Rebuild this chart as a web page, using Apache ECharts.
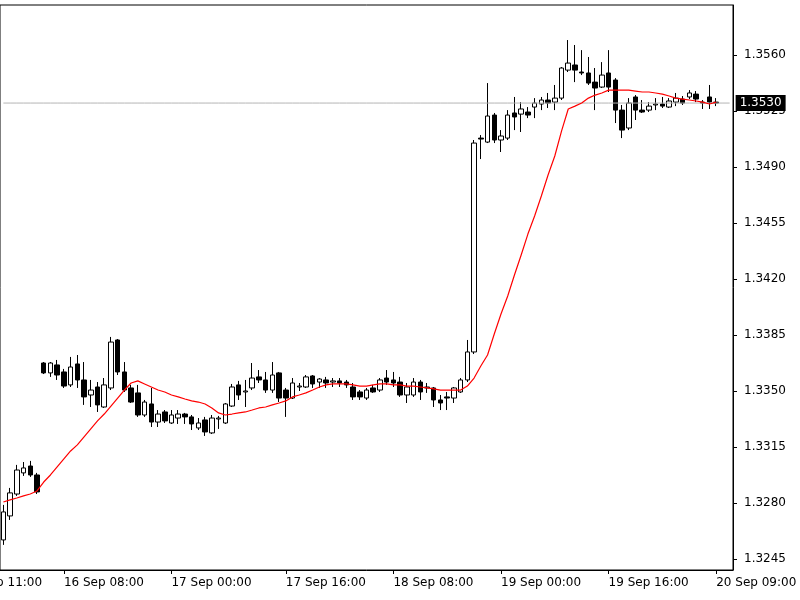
<!DOCTYPE html>
<html><head><meta charset="utf-8">
<script src="https://cdn.jsdelivr.net/npm/echarts@6/dist/echarts.min.js"></script>
<style>html,body{margin:0;padding:0;background:#fff}#c{width:800px;height:600px}</style>
</head><body><div id="c"></div>
<script>
const openP = [1.32569,1.32719,1.32856,1.32988,1.33031,1.32975,1.33675,1.33613,1.33663,1.33619,1.33538,1.33669,1.33569,1.33475,1.33525,1.33400,1.33519,1.33819,1.33619,1.33519,
1.33488,1.33350,1.33419,1.33306,1.33369,1.33300,1.33331,1.33356,1.33338,1.33269,1.33319,1.33238,1.33325,1.33300,1.33406,1.33538,1.33494,1.33519,1.33588,1.33569,
1.33506,1.33613,1.33506,1.33456,1.33525,1.33525,1.33594,1.33556,1.33569,1.33556,1.33563,1.33556,1.33525,1.33494,1.33456,1.33519,1.33506,1.33581,1.33569,1.33556,
1.33475,1.33475,1.33556,1.33519,1.33519,1.33444,1.33463,1.33456,1.33494,1.33569,1.33744,1.35081,1.35056,1.35225,1.35069,1.35081,1.35238,1.35231,1.35244,1.35275,
1.35294,1.35319,1.35306,1.35331,1.35506,1.35538,1.35494,1.35488,1.35431,1.35400,1.35488,1.35444,1.35256,1.35144,1.35338,1.35256,1.35256,1.35288,1.35294,1.35275,
1.35306,1.35325,1.35338,1.35356,1.35306,1.35338,1.35306];
const closeP = [1.32744,1.32863,1.33006,1.33019,1.32975,1.32869,1.33613,1.33675,1.33600,1.33531,1.33650,1.33569,1.33463,1.33506,1.33413,1.33538,1.33806,1.33619,1.33506,1.33431,
1.33350,1.33431,1.33306,1.33356,1.33313,1.33350,1.33356,1.33338,1.33294,1.33300,1.33244,1.33331,1.33331,1.33419,1.33525,1.33475,1.33500,1.33581,1.33569,1.33506,
1.33600,1.33456,1.33456,1.33550,1.33531,1.33588,1.33544,1.33575,1.33550,1.33563,1.33550,1.33538,1.33463,1.33463,1.33506,1.33494,1.33569,1.33556,1.33550,1.33475,
1.33525,1.33556,1.33494,1.33525,1.33444,1.33425,1.33456,1.33519,1.33569,1.33744,1.35050,1.35075,1.35219,1.35069,1.35094,1.35225,1.35213,1.35263,1.35225,1.35300,
1.35319,1.35300,1.35331,1.35519,1.35550,1.35506,1.35488,1.35425,1.35394,1.35475,1.35400,1.35256,1.35131,1.35300,1.35256,1.35244,1.35281,1.35294,1.35281,1.35313,
1.35331,1.35300,1.35363,1.35325,1.35300,1.35306,1.35300];
const lowP = [1.32538,1.32694,1.32844,1.32969,1.32963,1.32856,1.33606,1.33588,1.33569,1.33519,1.33525,1.33519,1.33413,1.33400,1.33369,1.33394,1.33506,1.33600,1.33494,1.33425,
1.33338,1.33338,1.33275,1.33275,1.33300,1.33294,1.33294,1.33294,1.33256,1.33256,1.33219,1.33231,1.33263,1.33294,1.33400,1.33444,1.33400,1.33506,1.33550,1.33488,
1.33488,1.33431,1.33338,1.33450,1.33500,1.33519,1.33519,1.33519,1.33519,1.33525,1.33525,1.33519,1.33444,1.33444,1.33444,1.33488,1.33494,1.33538,1.33525,1.33463,
1.33425,1.33463,1.33444,1.33488,1.33400,1.33381,1.33381,1.33425,1.33488,1.33556,1.33731,1.34950,1.35050,1.35050,1.34994,1.35069,1.35131,1.35119,1.35206,1.35206,
1.35256,1.35269,1.35256,1.35319,1.35494,1.35431,1.35475,1.35413,1.35256,1.35394,1.35369,1.35175,1.35081,1.35131,1.35194,1.35238,1.35244,1.35256,1.35269,1.35269,
1.35281,1.35288,1.35325,1.35306,1.35263,1.35263,1.35281];
const highP = [1.32788,1.32894,1.33038,1.33056,1.33063,1.32988,1.33681,1.33681,1.33694,1.33638,1.33713,1.33725,1.33681,1.33569,1.33556,1.33581,1.33838,1.33825,1.33681,1.33538,
1.33538,1.33444,1.33519,1.33381,1.33381,1.33381,1.33381,1.33363,1.33350,1.33331,1.33338,1.33350,1.33344,1.33425,1.33544,1.33563,1.33569,1.33675,1.33631,1.33619,
1.33681,1.33619,1.33519,1.33581,1.33550,1.33600,1.33600,1.33581,1.33588,1.33581,1.33581,1.33569,1.33550,1.33506,1.33519,1.33538,1.33581,1.33631,1.33619,1.33588,
1.33550,1.33581,1.33569,1.33550,1.33525,1.33475,1.33494,1.33525,1.33581,1.33819,1.35069,1.35100,1.35425,1.35238,1.35131,1.35256,1.35338,1.35306,1.35275,1.35331,
1.35338,1.35363,1.35413,1.35525,1.35694,1.35663,1.35631,1.35588,1.35519,1.35556,1.35631,1.35456,1.35288,1.35331,1.35350,1.35319,1.35306,1.35331,1.35338,1.35331,
1.35363,1.35344,1.35381,1.35375,1.35319,1.35413,1.35331];
const maP = [1.32806,1.32819,1.32831,1.32844,1.32856,1.32875,1.32931,1.32975,1.33025,1.33075,1.33125,1.33163,1.33213,1.33263,1.33313,1.33356,1.33406,1.33456,1.33506,1.33550,
1.33563,1.33544,1.33525,1.33506,1.33494,1.33475,1.33463,1.33450,1.33438,1.33431,1.33419,1.33394,1.33363,1.33350,1.33356,1.33363,1.33369,1.33381,1.33394,1.33400,
1.33413,1.33425,1.33438,1.33463,1.33475,1.33488,1.33506,1.33525,1.33538,1.33544,1.33544,1.33544,1.33538,1.33531,1.33531,1.33538,1.33544,1.33544,1.33538,1.33538,
1.33531,1.33531,1.33525,1.33519,1.33513,1.33506,1.33506,1.33506,1.33506,1.33531,1.33581,1.33656,1.33725,1.33856,1.33981,1.34094,1.34225,1.34350,1.34481,1.34594,
1.34719,1.34850,1.34969,1.35125,1.35263,1.35281,1.35300,1.35331,1.35350,1.35363,1.35381,1.35381,1.35381,1.35381,1.35375,1.35369,1.35369,1.35363,1.35356,1.35344,
1.35331,1.35325,1.35319,1.35313,1.35306,1.35294,1.35306];
const yTicks = [1.3245,1.3280,1.3315,1.3350,1.3385,1.3420,1.3455,1.3490,1.3525,1.3560];
const xLabelAt = {9:'16 Sep 08:00',25:'17 Sep 00:00',42:'17 Sep 16:00',58:'18 Sep 08:00',74:'19 Sep 00:00',90:'19 Sep 16:00',106:'20 Sep 09:00'};
const firstLabel = '15 Sep 11:00';
const lastPrice = 1.3530;

const N = 109;
const cats = [];
for (let i = 0; i < N; i++) cats.push(xLabelAt[i] || '');
const candles = openP.map((o, i) => [o, closeP[i], lowP[i], highP[i]]);
const priceLine = cats.map(() => lastPrice);
const font = 'DejaVu Sans';
const chart = echarts.init(document.getElementById('c'));
chart.setOption({
  animation: false,
  backgroundColor: '#fff',
  grid: {left: 0, right: 67, top: 5, bottom: 30, show: true, borderColor: '#000', borderWidth: 1},
  xAxis: {
    type: 'category', data: cats, boundaryGap: true,
    axisLine: {lineStyle: {color: '#000'}},
    axisTick: {show: true, interval: (i) => !!xLabelAt[i], alignWithLabel: true, length: 4, lineStyle: {color: '#000'}},
    axisLabel: {interval: (i) => !!xLabelAt[i], color: '#000', fontFamily: font, fontSize: 12, align: 'left', margin: 7},
    splitLine: {show: false}
  },
  yAxis: {
    type: 'value', position: 'right', min: 1.32381, max: 1.35913, scale: true,
    axisLine: {show: true, lineStyle: {color: '#000'}},
    axisTick: {show: true, length: 4, customValues: yTicks, lineStyle: {color: '#000'}},
    axisLabel: {customValues: yTicks, formatter: v => v.toFixed(4), color: '#000', fontFamily: font, fontSize: 12, margin: 11},
    splitLine: {show: false}
  },
  graphic: [{type: 'text', left: -38, top: 577, style: {text: firstLabel, fill: '#000', font: '12px DejaVu Sans'}}],
  series: [
    {
      type: 'line', data: priceLine, silent: true, symbol: 'none', showSymbol: false,
      lineStyle: {color: '#b4b4b4', width: 1},
      endLabel: {show: true, distance: 6, formatter: () => lastPrice.toFixed(4), color: '#fff', backgroundColor: '#000', padding: [2, 4], fontFamily: font, fontSize: 12}
    },
    {
      type: 'candlestick', data: candles, barWidth: 5,
      itemStyle: {color: '#fff', color0: '#000', borderColor: '#000', borderColor0: '#000', borderWidth: 1}
    },
    {
      type: 'line', data: maP, showSymbol: false, symbol: 'none',
      lineStyle: {color: '#ff0000', width: 1.2}
    }
  ]
});
</script></body></html>
